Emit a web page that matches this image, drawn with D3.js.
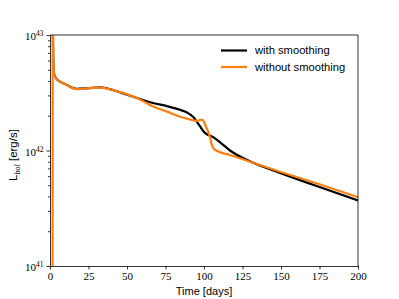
<!DOCTYPE html>
<html>
<head>
<meta charset="utf-8">
<script src="https://cdn.jsdelivr.net/npm/d3@7"></script>
<style>
  body { margin: 0; background: #fff; }
  svg { display: block; }
</style>
</head>
<body>
<div id="chart"></div>
<script>
var W = 399, H = 299;
var margin = { top: 35, right: 41, bottom: 33, left: 50 };

// time in days
var timeSmooth = [1.5, 1.9, 2.3, 3.2, 5.2, 10, 17.3, 25, 32.5, 42, 52, 60, 66.9, 76, 84.4, 89, 92.9, 97, 100.6, 103, 105.8, 111, 116.9, 127.7, 149.4, 170.8, 200];
var lumSmooth = [3e43, 1e43, 4.9e42, 4.4e42, 4.05e42, 3.75e42, 3.42e42, 3.47e42, 3.52e42, 3.3e42, 2.98e42, 2.75e42, 2.58e42, 2.42e42, 2.25e42, 2.13e42, 1.96e42, 1.65e42, 1.42e42, 1.36e42, 1.31e42, 1.16e42, 1.0e42, 0.83e42, 0.64e42, 0.505e42, 0.37e42];

var timeRaw = [1.7, 1.75, 1.9, 2.3, 3.2, 5.2, 10, 17.3, 25, 32.5, 42, 52, 60, 66.9, 76, 84.4, 90, 95.5, 98.5, 100.2, 101.3, 102.8, 103.9, 105, 106.3, 108.2, 116.9, 129.9, 149.4, 175, 200];
var lumRaw = [1e40, 3e43, 1.3e43, 4.95e42, 4.4e42, 4.05e42, 3.75e42, 3.4e42, 3.47e42, 3.5e42, 3.3e42, 3.0e42, 2.7e42, 2.4e42, 2.17e42, 1.96e42, 1.87e42, 1.8e42, 1.85e42, 1.75e42, 1.6e42, 1.45e42, 1.3e42, 1.13e42, 1.04e42, 0.995e42, 0.915e42, 0.8e42, 0.655e42, 0.51e42, 0.395e42];

var xTicks = [0, 25, 50, 75, 100, 125, 150, 175, 200];
var yTicks = [1e41, 1e42, 1e43];
var yMinor = [2e41, 3e41, 4e41, 5e41, 6e41, 7e41, 8e41, 9e41, 2e42, 3e42, 4e42, 5e42, 6e42, 7e42, 8e42, 9e42];

var series = [
  { name: "with smoothing", color: "#000000", t: timeSmooth, l: lumSmooth },
  { name: "without smoothing", color: "#ff7f0e", t: timeRaw, l: lumRaw }
];

var iw = W - margin.left - margin.right;
var ih = H - margin.top - margin.bottom;

var svg = d3.select("#chart").append("svg")
  .attr("width", W)
  .attr("height", H);

var g = svg.append("g")
  .attr("transform", "translate(" + margin.left + "," + margin.top + ")");

var x = d3.scaleLinear().domain([0, 200]).range([0, iw]);
var y = d3.scaleLog().domain([1e41, 1e43]).range([ih, 0]);

g.append("clipPath").attr("id", "clip")
  .append("rect").attr("width", iw).attr("height", ih);

var line = d3.line()
  .x(d => x(d[0]))
  .y(d => y(d[1]))
  .curve(d3.curveMonotoneX);

g.append("g").attr("clip-path", "url(#clip)")
  .selectAll("path")
  .data(series)
  .enter()
  .append("path")
  .attr("d", d => line(d.t.map((t, i) => [t, d.l[i]])))
  .attr("fill", "none")
  .attr("stroke", d => d.color)
  .attr("stroke-width", 2.2)
  .attr("stroke-linejoin", "round");

// axes
var xAxis = g.append("g")
  .attr("transform", "translate(0," + ih + ")")
  .call(d3.axisBottom(x).tickValues(xTicks).tickSize(3.5).tickSizeOuter(0).tickPadding(3));

xAxis.selectAll("text")
  .attr("font-family", "Liberation Serif, serif")
  .attr("font-size", 11)
  .attr("fill", "#000");

g.append("g")
  .call(d3.axisLeft(y).tickValues(yMinor).tickSize(2).tickSizeOuter(0).tickFormat(""))
  .select(".domain").remove();

var yAxis = g.append("g")
  .call(d3.axisLeft(y).tickValues(yTicks).tickSize(3.5).tickSizeOuter(0).tickPadding(3).tickFormat(""));

yAxis.selectAll(".tick text")
  .attr("font-family", "Liberation Serif, serif")
  .attr("font-size", 11)
  .attr("fill", "#000")
  .attr("dy", "0.45em")
  .each(function(d) {
    var t = d3.select(this);
    t.text("10");
    t.append("tspan")
      .attr("dy", "-0.55em")
      .attr("font-size", 7.5)
      .text(Math.round(Math.log10(d)));
  });

g.selectAll(".domain, .tick line").attr("stroke", "#000").attr("stroke-width", 0.8);

// top and right spines
g.append("line").attr("x1", 0).attr("x2", iw).attr("y1", 0).attr("y2", 0)
  .attr("stroke", "#000").attr("stroke-width", 0.8);
g.append("line").attr("x1", iw).attr("x2", iw).attr("y1", 0).attr("y2", ih)
  .attr("stroke", "#000").attr("stroke-width", 0.8);

// labels
g.append("text")
  .attr("x", iw / 2)
  .attr("y", ih + 29)
  .attr("text-anchor", "middle")
  .attr("font-family", "Liberation Sans, sans-serif")
  .attr("font-size", 11)
  .text("Time [days]");

var yl = svg.append("text")
  .attr("transform", "translate(17,155) rotate(-90)")
  .attr("text-anchor", "middle")
  .attr("font-family", "Liberation Sans, sans-serif")
  .attr("font-size", 11.5);
yl.append("tspan").text("L");
yl.append("tspan").attr("dy", 2.5).attr("font-size", 8).attr("font-style", "italic")
  .attr("font-family", "Liberation Serif, serif").text("bol");
yl.append("tspan").attr("dy", -2.5).text(" [erg/s]");

// legend
var leg = g.selectAll(".leg")
  .data(series)
  .enter()
  .append("g")
  .attr("class", "leg")
  .attr("transform", (d, i) => "translate(171," + (15.5 + i * 16.5) + ")");

leg.append("line")
  .attr("x1", 0).attr("x2", 26)
  .attr("stroke", d => d.color)
  .attr("stroke-width", 2.2);

leg.append("text")
  .attr("x", 34)
  .attr("dy", "0.35em")
  .attr("font-family", "Liberation Sans, sans-serif")
  .attr("font-size", 11.2)
  .text(d => d.name);
</script>
</body>
</html>
